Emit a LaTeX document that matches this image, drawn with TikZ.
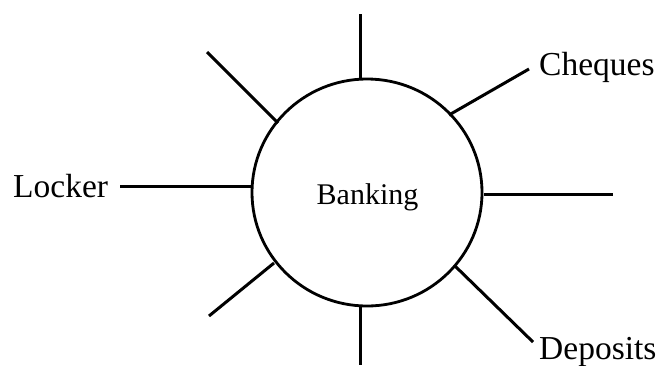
\documentclass[tikz,border=0pt]{standalone}
\usepackage{fontspec}
\setmainfont{Liberation Serif}
\begin{document}
\begin{tikzpicture}[x=1pt,y=-1pt,
  spoke/.style={line width=3pt,line cap=butt},
  lbl/.style={inner sep=0pt,anchor=base west,font=\fontsize{33.5}{38}\selectfont}]
\useasboundingbox (0,0) rectangle (660,365);
% hub
\draw[line width=2.8pt] (367,192.5) ellipse [x radius=115, y radius=113.5];
\node[inner sep=0pt,anchor=base,font=\fontsize{30}{34}\selectfont] (bank) at (367.5,204) {Banking};
% labels
\node[lbl] (locker) at (13,197) {Locker};
\node[lbl] (cheques) at (539,75) {Cheques};
\node[lbl] (deposits) at (539,359) {Deposits};
% spoke ends
\coordinate (t1) at (360,14);   \coordinate (t0) at (360,79);
\coordinate (b1) at (360,365);  \coordinate (b0) at (360,306);
\coordinate (l1) at (120,186);  \coordinate (l0) at (252,186);
\coordinate (r1) at (613,194);  \coordinate (r0) at (484,194);
\coordinate (tl1) at (207,52);  \coordinate (tl0) at (278,123);
\coordinate (bl1) at (209,316); \coordinate (bl0) at (274,263);
\coordinate (tr1) at (529,69);  \coordinate (tr0) at (449,115);
\coordinate (br1) at (533,342); \coordinate (br0) at (455,266);
\foreach \s in {t,b,l,r,tl,bl,tr,br}{\draw[spoke] (\s0) -- (\s1);}
\end{tikzpicture}
\end{document}
